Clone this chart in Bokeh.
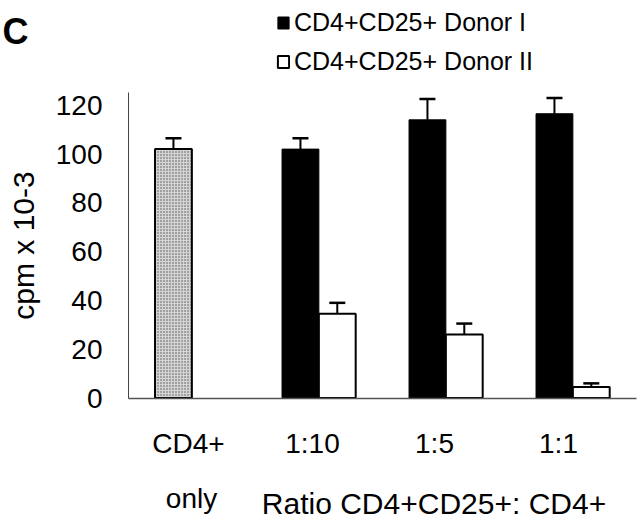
import numpy as np
from bokeh.plotting import figure
from bokeh.models import (ColumnDataSource, FixedTicker, CustomJSTickFormatter, Whisker,
                          TeeHead, Label, Legend, LegendItem, Range1d)
from bokeh.embed import file_html
from bokeh.resources import INLINE

# ---------------- data ----------------
groups = ["CD4+ only", "1:10", "1:5", "1:1"]
tick_labels = ["CD4+", "1:10", "1:5", "1:1"]
control_value = [102]
control_err = [4.5]
donor1 = [102, 114, 116.5]
donor1_err = [4.5, 8.5, 6.5]
donor2 = [34.5, 26, 4.5]
donor2_err = [4.5, 4.5, 1.5]
y_ticks = [0, 20, 40, 60, 80, 100, 120]

# ---------------- layout helpers (pixel -> data) ----------------
W, H = 640, 520
GX0, GPX = 192.0, 127.0      # pixel of first group centre, pixels per group
BASE, YPX = 397.5, 2.44      # pixel of y=0, pixels per unit


def dx(px):
    return (px - GX0) / GPX


def dy(py):
    return (BASE - py) / YPX


FONT = "Liberation Sans"

p = figure(width=W, height=H, x_range=Range1d(dx(0), dx(W)), y_range=Range1d(dy(H), dy(0)),
           output_backend="svg", toolbar_location=None, title=None,
           min_border=0, min_border_left=0, min_border_right=0,
           min_border_top=0, min_border_bottom=0)
p.outline_line_color = None
p.xgrid.visible = False
p.ygrid.visible = False
p.background_fill_color = "white"
p.border_fill_color = "white"

gx = np.arange(len(groups))
off_l, off_r, bw = -0.15, 0.14, 0.29

# control bar (stippled)
src_c = ColumnDataSource(dict(x=gx[:1] + off_l, top=control_value,
                              upper=np.array(control_value) + np.array(control_err)))
p.vbar(x="x", top="top", width=bw, source=src_c, fill_color="#d4d4d4",
       hatch_pattern=".", hatch_color="#555555", hatch_scale=3, hatch_weight=1,
       line_color="black", line_width=2)

src1 = ColumnDataSource(dict(x=gx[1:] + off_l, top=donor1,
                             upper=np.array(donor1) + np.array(donor1_err)))
src2 = ColumnDataSource(dict(x=gx[1:] + off_r, top=donor2,
                             upper=np.array(donor2) + np.array(donor2_err)))
r1 = p.vbar(x="x", top="top", width=bw, source=src1, fill_color="black",
            line_color="black", line_width=1)
r2 = p.vbar(x="x", top="top", width=bw, source=src2, fill_color="white",
            line_color="black", line_width=2)

for s in (src_c, src1, src2):
    p.add_layout(Whisker(source=s, base="x", lower="top", upper="upper", dimension="height",
                         upper_head=TeeHead(size=16, line_width=2.5, line_color="black"),
                         lower_head=None, line_width=2, line_color="black", level="overlay"))

# ---------------- axes ----------------
yax = p.yaxis[0]
yax.fixed_location = dx(128)
yax.bounds = (0, dy(92))
yax.ticker = FixedTicker(ticks=y_ticks)
yax.major_tick_out = 0
yax.major_tick_in = 0
yax.minor_tick_out = 0
yax.minor_tick_in = 0
yax.major_label_standoff = 26
yax.major_label_text_font = FONT
yax.major_label_text_font_size = "28px"
yax.major_label_text_color = "black"
yax.axis_line_color = "#444444"
yax.axis_line_width = 1
yax.axis_label = "cpm x 10-3"
yax.axis_label_text_font = FONT
yax.axis_label_text_font_size = "30px"
yax.axis_label_text_font_style = "normal"
yax.axis_label_text_color = "black"
yax.axis_label_standoff = 13

label_pos = [dx(188), dx(312), dx(434), dx(558)]
xax = p.xaxis[0]
xax.fixed_location = 0
xax.bounds = (dx(128), dx(636))
xax.ticker = FixedTicker(ticks=label_pos)
xax.formatter = CustomJSTickFormatter(args=dict(labels=tick_labels),
                                      code="return labels[index];")
xax.major_tick_out = 0
xax.major_tick_in = 0
xax.minor_tick_out = 0
xax.minor_tick_in = 0
xax.major_label_standoff = 30
xax.major_label_text_font = FONT
xax.major_label_text_font_size = "28px"
xax.major_label_text_color = "black"
xax.axis_line_color = "#555555"
xax.axis_line_width = 1.5

# ---------------- texts ----------------
p.add_layout(Label(x=dx(191), y=dy(498), text="only", text_font=FONT, text_font_size="28px",
                   text_align="center", text_baseline="alphabetic", text_color="black"))
p.add_layout(Label(x=dx(433.5), y=dy(503), text="Ratio CD4+CD25+: CD4+", text_font=FONT,
                   text_font_size="30px", text_align="center", text_baseline="alphabetic",
                   text_color="black"))
p.add_layout(Label(x=dx(2), y=dy(31), text="C", text_font=FONT, text_font_size="36px",
                   text_font_style="bold", text_align="left", text_baseline="alphabetic",
                   text_color="black"))

legend = Legend(items=[LegendItem(label="CD4+CD25+ Donor I", renderers=[r1]),
                       LegendItem(label="CD4+CD25+ Donor II", renderers=[r2])],
                location=(276, 444), orientation="vertical",
                glyph_width=14, glyph_height=15, label_height=20, label_standoff=4,
                spacing=10, padding=0, margin=0,
                label_text_font=FONT, label_text_font_size="25px", label_text_color="black",
                border_line_alpha=0, background_fill_alpha=0)
p.add_layout(legend)

open("out.html", "w").write(file_html(p, INLINE))
